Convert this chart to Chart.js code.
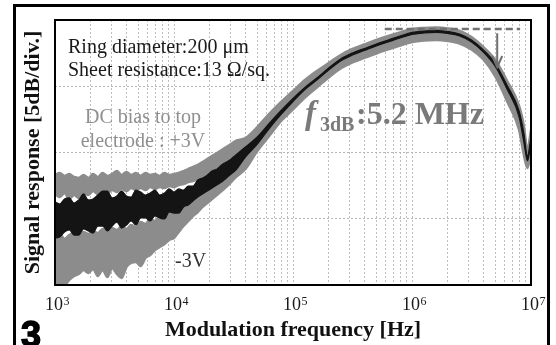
<!DOCTYPE html>
<html><head><meta charset="utf-8">
<script src="https://cdn.jsdelivr.net/npm/chart.js@4.4.0/dist/chart.umd.min.js"></script>
<style>html,body{margin:0;padding:0;background:#fff;}#wrap{position:relative;width:556px;height:345px;overflow:hidden;background:#fff;}</style>
</head><body><div id="wrap"><canvas id="c" width="556" height="345"></canvas></div>
<script>
// log10 of modulation frequency [Hz]
const logFreq = [3.00,3.04,3.08,3.12,3.16,3.20,3.24,3.28,3.32,3.36,3.40,3.44,3.48,3.52,3.56,3.60,3.64,3.68,3.72,3.76,3.80,3.84,3.88,3.92,3.96,4.00,4.04,4.08,4.12,4.16,4.20,4.24,4.28,4.32,4.36,4.40,4.44,4.48,4.52,
  4.6,4.7,4.8,4.9,5.0,5.1,5.2,5.3,5.4,5.5,5.6,5.7,5.8,5.9,6.0,6.1,6.2,6.3,6.4,6.5,6.6,6.7,6.8,6.9,6.94,6.97,7.0];

// signal response [dB] – upper / lower edge of each (noisy) trace
const zeroBiasTop = [-13.74,-13.89,-13.51,-13.43,-13.81,-13.58,-13.13,-13.58,-13.51,-13.21,-12.91,-12.91,-13.43,-13.28,-12.91,-13.28,-13.36,-12.83,-12.98,-13.21,-13.06,-12.83,-13.21,-13.06,-12.75,-12.98,-12.75,-12.83,-12.53,-12.53,-12.08,-11.92,-11.70,-11.40,-11.25,-10.94,-10.72,-10.49,-10.19,
  -9.58,-8.83,-7.81,-6.83,-5.92,-5.09,-4.38,-3.62,-2.94,-2.49,-2.15,-1.81,-1.51,-1.21,-0.94,-0.83,-0.79,-0.87,-1.06,-1.51,-2.26,-3.28,-4.94,-6.87,-8.53,-10.26,-8.83];
const zeroBiasBot = [-16.45,-16.38,-16.00,-15.85,-16.23,-16.23,-15.77,-15.92,-16.08,-15.55,-15.55,-15.92,-15.55,-15.25,-15.70,-15.47,-15.17,-15.47,-14.94,-14.94,-15.17,-14.79,-14.94,-15.02,-14.49,-14.57,-14.57,-14.11,-13.96,-13.66,-13.36,-13.13,-12.91,-12.68,-12.45,-12.23,-11.92,-11.62,-11.32,
  -10.34,-9.36,-8.19,-7.13,-6.15,-5.25,-4.53,-3.77,-3.09,-2.64,-2.30,-1.96,-1.66,-1.36,-1.09,-0.98,-0.94,-1.02,-1.21,-1.66,-2.42,-3.51,-5.25,-7.32,-9.21,-10.64,-9.28];
const plus3VTop = [-11.70,-11.55,-11.77,-11.62,-11.85,-11.92,-11.70,-11.92,-11.62,-11.85,-11.55,-11.77,-11.62,-11.40,-11.70,-11.47,-11.70,-11.55,-11.77,-11.55,-11.70,-11.62,-11.77,-11.55,-11.70,-11.62,-11.55,-11.40,-11.25,-11.09,-10.94,-10.72,-10.49,-10.26,-10.04,-9.81,-9.58,-9.36,-9.13,
  -8.91,-8.08,-7.09,-6.19,-5.36,-4.53,-3.85,-3.25,-2.64,-2.19,-1.85,-1.51,-1.21,-0.94,-0.68,-0.60,-0.57,-0.64,-0.83,-1.28,-2.04,-3.02,-4.60,-6.49,-8.00,-9.81,-8.30];
const plus3VBot = [-13.13,-13.36,-13.06,-13.51,-13.21,-13.43,-13.06,-13.21,-12.91,-13.13,-12.83,-13.06,-12.83,-12.98,-12.75,-12.91,-12.68,-12.83,-12.68,-12.83,-12.60,-12.75,-12.60,-12.68,-12.53,-12.60,-12.45,-12.38,-12.23,-12.15,-12.00,-11.77,-11.55,-11.32,-11.09,-10.87,-10.57,-10.34,-10.11,
  -9.66,-8.98,-8.00,-7.09,-6.19,-5.36,-4.68,-3.92,-3.32,-2.87,-2.53,-2.19,-1.89,-1.58,-1.32,-1.21,-1.17,-1.25,-1.43,-1.89,-2.64,-3.77,-5.51,-7.70,-9.43,-10.79,-9.51];
const minus3VTop = [-16.30,-16.15,-16.53,-16.23,-16.08,-16.30,-16.00,-16.15,-15.92,-16.08,-15.77,-16.00,-15.70,-15.85,-15.55,-15.77,-15.47,-15.62,-15.25,-15.40,-15.02,-15.17,-14.79,-14.87,-14.57,-14.49,-14.19,-14.04,-13.89,-13.66,-13.43,-13.13,-12.83,-12.53,-12.23,-11.92,-11.70,-11.40,-11.09,
  -10.42,-9.06,-7.92,-6.79,-5.81,-4.98,-4.23,-3.47,-2.79,-2.34,-2.00,-1.66,-1.36,-1.09,-0.83,-0.72,-0.68,-0.75,-0.94,-1.40,-2.15,-3.17,-4.83,-6.79,-8.30,-9.96,-8.53];
const minus3VBot = [-20.00,-20.00,-20.00,-19.62,-19.32,-19.17,-18.87,-19.09,-18.79,-19.32,-18.87,-19.40,-18.72,-19.17,-19.47,-18.64,-18.34,-18.26,-18.57,-17.96,-17.74,-17.36,-17.13,-16.91,-16.60,-16.45,-16.00,-15.55,-15.17,-14.79,-14.49,-14.11,-13.81,-13.51,-13.21,-12.91,-12.60,-12.23,-11.85,
  -11.25,-9.89,-8.75,-7.62,-6.75,-5.85,-5.09,-4.34,-3.66,-3.20,-2.86,-2.53,-2.22,-1.92,-1.66,-1.54,-1.51,-1.58,-1.77,-2.22,-2.98,-4.26,-6.15,-8.30,-10.19,-11.17,-9.96];

const tickExponents = [3,4,5,6,7];
const peakLevel = -0.68;             // dashed reference level
const refLineFreq = [5.9e5, 8.1e6];   // extent of dashed line
const f3dB = 5.2e6;                  // 3 dB cut-off
const arrowFrom = -1.0, arrowTo = -3.55;

const freq = logFreq.map(e => Math.pow(10, e));
const pts = arr => arr.map((v, i) => ({x: freq[i], y: v}));
const gridFreqs = [];
for (let e = 3; e < 7; e++) for (let m = 1; m <= 9; m++) gridFreqs.push(m * Math.pow(10, e));
gridFreqs.push(1e7);

const GRAY = '#8c8c8c', BLACK = '#141414';
const SERIF = 'Liberation Serif';
function band(top, bot, color, bw) {
  const common = {borderColor: color, backgroundColor: color, borderWidth: bw, pointRadius: 0, cubicInterpolationMode: 'monotone', borderJoinStyle: 'round'};
  return [Object.assign({data: pts(top), fill: false}, common), Object.assign({data: pts(bot), fill: '-1'}, common)];
}

const decor = {
  id: 'decor',
  afterDatasetsDraw(chart) {
    const {ctx, chartArea: a, scales: {x, y}} = chart;
    ctx.save();
    const ax = x.getPixelForValue(f3dB), y0 = y.getPixelForValue(arrowFrom), y1 = y.getPixelForValue(arrowTo);
    ctx.strokeStyle = '#6f6f6f'; ctx.lineWidth = 2;
    ctx.beginPath(); ctx.moveTo(ax, y0); ctx.lineTo(ax, y1);
    ctx.moveTo(ax - 5, y1 - 11); ctx.lineTo(ax, y1); ctx.lineTo(ax + 5, y1 - 11); ctx.stroke();
    ctx.strokeStyle = '#000'; ctx.lineWidth = 2;
    ctx.strokeRect(a.left, a.top, a.right - a.left, a.bottom - a.top);
    ctx.textBaseline = 'alphabetic';
    ctx.fillStyle = '#1a1a1a'; ctx.font = '20px "' + SERIF + '"'; ctx.textAlign = 'left';
    ctx.fillText('Ring diameter:200 \u03bcm', 68, 53);
    ctx.fillText('Sheet resistance:13 \u03a9/sq.', 68, 76);
    ctx.fillStyle = '#333'; ctx.fillText('-3V', 175, 267);
    ctx.fillStyle = '#8f8f8f'; ctx.textAlign = 'center';
    ctx.fillText('DC bias to top', 143, 123);
    ctx.fillText('electrode : +3V', 143, 147);
    ctx.textAlign = 'left'; ctx.fillStyle = '#7a7a7a';
    ctx.font = 'italic bold 33px "' + SERIF + '"'; ctx.fillText('f', 305, 124);
    ctx.font = 'bold 20px "' + SERIF + '"'; ctx.fillText('3dB', 320, 131);
    ctx.font = 'bold 32px "' + SERIF + '"'; ctx.fillText(':5.2 MHz', 356, 124);
    ctx.restore();
  },
  afterDraw(chart) {
    const {ctx, scales: {x}} = chart;
    ctx.save();
    ctx.strokeStyle = '#000'; ctx.lineWidth = 3;
    ctx.strokeRect(14.5, 5.5, 534, 400);
    ctx.fillStyle = '#1a1a1a'; ctx.textAlign = 'left'; ctx.textBaseline = 'alphabetic';
    tickExponents.forEach(e => {
      const px = x.getPixelForValue(Math.pow(10, e));
      ctx.font = '18px "' + SERIF + '"'; const w1 = ctx.measureText('10').width;
      ctx.font = '12px "' + SERIF + '"'; const w2 = ctx.measureText(String(e)).width;
      const sx = px + 2 - (w1 + w2) / 2;
      ctx.font = '18px "' + SERIF + '"'; ctx.fillText('10', sx, 310);
      ctx.font = '12px "' + SERIF + '"'; ctx.fillText(String(e), sx + w1 + 0.5, 305);
    });
    ctx.font = 'bold 36px "Liberation Sans"'; ctx.fillStyle = '#000'; ctx.strokeStyle = '#000'; ctx.lineWidth = 1.5;
    ctx.fillText('3', 21, 347); ctx.strokeText('3', 21, 347);
    ctx.restore();
  }
};

new Chart(document.getElementById('c'), {
  type: 'line',
  data: {
    datasets: [
      {data: [{x: refLineFreq[0], y: peakLevel}, {x: refLineFreq[1], y: peakLevel}], borderColor: '#727272', borderWidth: 2.5, borderDash: [7, 4], pointRadius: 0, fill: false},
      ...band(zeroBiasTop, zeroBiasBot, BLACK, 1.2),
      ...band(plus3VTop, plus3VBot, GRAY, 2.5),
      ...band(minus3VTop, minus3VBot, GRAY, 2.5)
    ]
  },
  options: {
    responsive: false, animation: false, devicePixelRatio: 1,
    events: [],
    layout: {padding: {left: 14, right: 25, top: 20, bottom: 0}},
    plugins: {legend: {display: false}, tooltip: {enabled: false}},
    scales: {
      x: {
        type: 'logarithmic', min: 1e3, max: 1e7,
        afterBuildTicks: s => { s.ticks = gridFreqs.map(v => ({value: v})); },
        ticks: {display: false, autoSkip: false},
        grid: {color: '#bdbdbd', lineWidth: 1, drawTicks: false},
        border: {display: false, dash: [2, 2]},
        title: {display: true, text: 'Modulation frequency [Hz]', color: '#111', font: {family: SERIF, size: 22, weight: 'bold', lineHeight: 1}, padding: {top: 34, bottom: 4}}
      },
      y: {
        type: 'linear', min: -20, max: 0,
        ticks: {display: false, stepSize: 5},
        grid: {color: '#b3b3b3', lineWidth: 1, drawTicks: false},
        border: {display: false, dash: [2, 2]},
        title: {display: true, text: 'Signal response [5dB/div.]', color: '#111', font: {family: SERIF, size: 22, weight: 'bold', lineHeight: 1}, padding: {top: 8, bottom: 11}}
      }
    }
  },
  plugins: [decor]
});
</script></body></html>
